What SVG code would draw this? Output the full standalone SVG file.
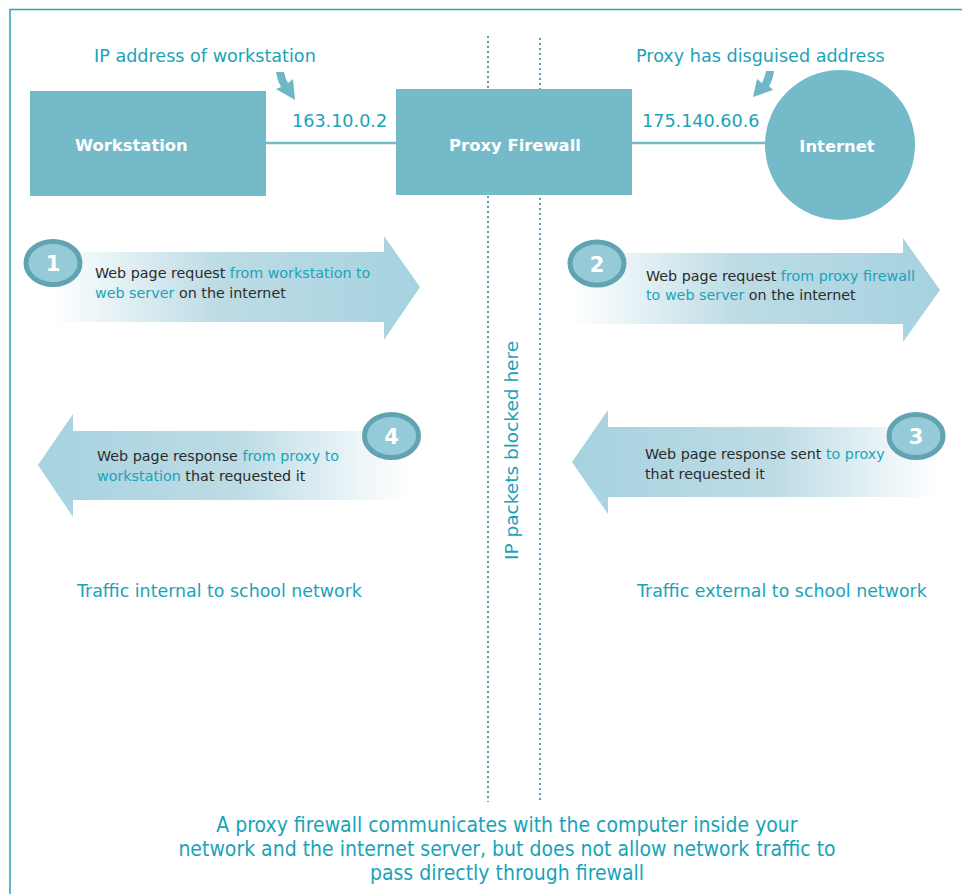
<svg xmlns="http://www.w3.org/2000/svg" width="962" height="894" viewBox="0 0 962 894">
  <defs>
    <linearGradient id="gradRight" x1="0" y1="0" x2="1" y2="0">
      <stop offset="0" stop-color="#ffffff"/>
      <stop offset="0.45" stop-color="#bddce5"/>
      <stop offset="1" stop-color="#a6d2e0"/>
    </linearGradient>
    <linearGradient id="gradLeft" x1="1" y1="0" x2="0" y2="0">
      <stop offset="0" stop-color="#ffffff"/>
      <stop offset="0.45" stop-color="#bddce5"/>
      <stop offset="1" stop-color="#a6d2e0"/>
    </linearGradient>
  </defs>
  <style>
    .node { fill: #74bac9; }
    .label { font-family: "DejaVu Sans", Verdana, sans-serif; fill: #ffffff; font-weight: bold; font-size: 16.4px; }
    .teal { font-family: "DejaVu Sans", Verdana, sans-serif; fill: #1aa3b8; font-size: 17.6px; }
    .body { font-family: "DejaVu Sans", Verdana, sans-serif; fill: #2b2b2b; font-size: 14.3px; }
    .hl { fill: #1aa3b8; }
    .badge { fill: #95cad8; stroke: #62a3b3; stroke-width: 5; }
    .num { font-family: "DejaVu Sans", Verdana, sans-serif; fill: #ffffff; font-weight: bold; font-size: 21px; text-anchor: middle; }
    .wire { stroke: #74bac9; stroke-width: 2.5; fill: none; }
    .curl { fill: #6fb6c6; }
    .dots { stroke: #5d9eae; stroke-width: 2; stroke-dasharray: 2 3; fill: none; }
    .note { font-family: "DejaVu Sans Condensed", "DejaVu Sans", sans-serif; fill: #1aa3b8; font-size: 21px; text-anchor: middle; }
  </style>

  <rect width="962" height="894" fill="#ffffff"/>
  <!-- outer frame -->
  <path d="M10,894 V9.5 H962" fill="none" stroke="#2aa3b3" stroke-width="1.5"/>

  <!-- firewall boundary -->
  <g id="boundary">
    <line class="dots" x1="488" y1="36" x2="488" y2="802"/>
    <line class="dots" x1="540" y1="38" x2="540" y2="802"/>
    <text class="teal" style="font-size:18.5px" transform="translate(518,560) rotate(-90)">IP packets blocked here</text>
  </g>

  <!-- connectors -->
  <g id="connectors">
    <line class="wire" x1="266" y1="143" x2="396" y2="143"/>
    <line class="wire" x1="632" y1="143" x2="766" y2="143"/>
    <path class="curl" d="M276,72 L284,72 Q285,78 288,83 L293,79 L295,100 L276,89 L281,87 Q277,80 276,72 Z"/>
    <path class="curl" d="M766,71 L774,71 Q773,80 769,86 L773,90 L753,97 L757,79 L762,83 Q765,77 766,71 Z"/>
  </g>

  <g id="workstation">
    <rect class="node" x="30" y="91" width="236" height="105"/>
    <text class="label" x="75" y="151">Workstation</text>
  </g>
  <g id="proxy-firewall">
    <rect class="node" x="396" y="89" width="236" height="106"/>
    <text class="label" x="515" y="151" text-anchor="middle">Proxy Firewall</text>
  </g>
  <g id="internet">
    <circle class="node" cx="840" cy="145" r="75"/>
    <text class="label" x="837" y="152" text-anchor="middle">Internet</text>
  </g>

  <!-- address labels -->
  <text class="teal" x="94" y="62">IP address of workstation</text>
  <text class="teal" x="292" y="127">163.10.0.2</text>
  <text class="teal" x="636" y="62">Proxy has disguised address</text>
  <text class="teal" x="642" y="127">175.140.60.6</text>

  <!-- step 1 -->
  <g id="step1">
    <path d="M50,252 H384 V236 L420,287 L384,340 V322 H50 Z" fill="url(#gradRight)"/>
    <ellipse class="badge" cx="53" cy="263" rx="27" ry="21.5"/>
    <text class="num" x="53" y="271">1</text>
    <text class="body" x="95" y="278">Web page request <tspan class="hl">from workstation to</tspan></text>
    <text class="body" x="95" y="298"><tspan class="hl">web server</tspan> on the internet</text>
  </g>

  <!-- step 2 -->
  <g id="step2">
    <path d="M572,253 H903 V238 L940,290 L903,342 V324 H572 Z" fill="url(#gradRight)"/>
    <ellipse class="badge" cx="597" cy="263.5" rx="27" ry="21.5"/>
    <text class="num" x="597" y="271.5">2</text>
    <text class="body" x="646" y="281">Web page request <tspan class="hl">from proxy firewall</tspan></text>
    <text class="body" x="646" y="300"><tspan class="hl">to web server</tspan> on the internet</text>
  </g>

  <!-- step 3 -->
  <g id="step3">
    <path d="M940,427 H608 V410 L572,462 L608,514 V497 H940 Z" fill="url(#gradLeft)"/>
    <ellipse class="badge" cx="916" cy="436" rx="27" ry="21.5"/>
    <text class="num" x="916" y="444">3</text>
    <text class="body" x="645" y="459">Web page response sent <tspan class="hl">to proxy</tspan></text>
    <text class="body" x="645" y="479">that requested it</text>
  </g>

  <!-- step 4 -->
  <g id="step4">
    <path d="M407,431 H73 V414 L38,465 L73,517 V500 H407 Z" fill="url(#gradLeft)"/>
    <ellipse class="badge" cx="391.5" cy="436" rx="27" ry="21.5"/>
    <text class="num" x="391.5" y="444">4</text>
    <text class="body" x="97" y="461">Web page response <tspan class="hl">from proxy to</tspan></text>
    <text class="body" x="97" y="481"><tspan class="hl">workstation</tspan> that requested it</text>
  </g>

  <text class="teal" style="font-size:17.4px" x="77" y="597">Traffic internal to school network</text>
  <text class="teal" style="font-size:17.4px" x="637" y="597">Traffic external to school network</text>

  <g id="summary">
    <text class="note" x="507" y="832">A proxy firewall communicates with the computer inside your</text>
    <text class="note" x="507" y="856">network and the internet server, but does not allow network traffic to</text>
    <text class="note" x="507" y="880">pass directly through firewall</text>
  </g>
</svg>
